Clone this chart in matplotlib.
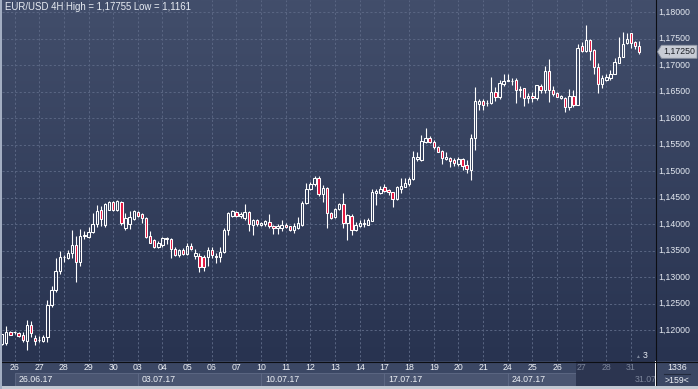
import numpy as np
import matplotlib
matplotlib.use('Agg')
import matplotlib.pyplot as plt
import matplotlib.transforms as mtransforms
from matplotlib.patches import Rectangle, Polygon
from matplotlib.lines import Line2D
from matplotlib.colors import LinearSegmentedColormap

plt.rcParams['font.family'] = ['Liberation Sans', 'DejaVu Sans']

W, H = 698, 389

# EUR/USD 4H candles, first one is cut by the left edge
first_bar = -1
opens = [1.1174, 1.1175, 1.1196, 1.1196, 1.1194, 1.1190, 1.1179, 1.1210, 1.1184, 1.1181,
         1.1179, 1.1186, 1.1248, 1.1275, 1.1311, 1.1337, 1.1335, 1.1345, 1.1361, 1.1329,
         1.1378, 1.1376, 1.1385, 1.1400, 1.1427, 1.1399, 1.1427, 1.1442, 1.1427, 1.1441,
         1.1392, 1.1400, 1.1409, 1.1423, 1.1418, 1.1411, 1.1378, 1.1369, 1.1356, 1.1361,
         1.1371, 1.1371, 1.1352, 1.1342, 1.1351, 1.1343, 1.1359, 1.1340, 1.1340, 1.1337,
         1.1337, 1.1351, 1.1340, 1.1337, 1.1348, 1.1389, 1.1416, 1.1422, 1.1416, 1.1411,
         1.1422, 1.1399, 1.1408, 1.1399, 1.1400, 1.1404, 1.1397, 1.1392, 1.1393, 1.1399,
         1.1396, 1.1389, 1.1393, 1.1399, 1.1440, 1.1466, 1.1476, 1.1487, 1.1457, 1.1468,
         1.1420, 1.1413, 1.1428, 1.1438, 1.1401, 1.1415, 1.1389, 1.1397, 1.1400, 1.1399,
         1.1406, 1.1459, 1.1459, 1.1470, 1.1464, 1.1460, 1.1447, 1.1467, 1.1470, 1.1476,
         1.1484, 1.1523, 1.1521, 1.1555, 1.1562, 1.1555, 1.1545, 1.1538, 1.1523, 1.1524,
         1.1521, 1.1513, 1.1523, 1.1511, 1.1502, 1.1562, 1.1626, 1.1632, 1.1628, 1.1628,
         1.1650, 1.1639, 1.1664, 1.1670, 1.1670, 1.1672, 1.1654, 1.1656, 1.1637, 1.1642,
         1.1637, 1.1660, 1.1653, 1.1689, 1.1653, 1.1647, 1.1637, 1.1637, 1.1621, 1.1642,
         1.1625, 1.1735, 1.1727, 1.1747, 1.1728, 1.1697, 1.1664, 1.1672, 1.1675, 1.1684,
         1.1704, 1.1716, 1.1741, 1.1760, 1.1743, 1.1735]
highs = [1.1193, 1.1207, 1.1199, 1.1199, 1.1196, 1.1196, 1.1218, 1.1217, 1.1190, 1.1188,
         1.1190, 1.1256, 1.1283, 1.1335, 1.1349, 1.1341, 1.1351, 1.1389, 1.1378, 1.1391,
         1.1386, 1.1395, 1.1421, 1.1435, 1.1434, 1.1440, 1.1444, 1.1444, 1.1446, 1.1444,
         1.1421, 1.1424, 1.1427, 1.1425, 1.1421, 1.1413, 1.1386, 1.1372, 1.1367, 1.1376,
         1.1375, 1.1373, 1.1356, 1.1352, 1.1354, 1.1365, 1.1365, 1.1352, 1.1345, 1.1342,
         1.1356, 1.1356, 1.1345, 1.1357, 1.1392, 1.1422, 1.1426, 1.1424, 1.1423, 1.1438,
         1.1424, 1.1410, 1.1410, 1.1404, 1.1408, 1.1418, 1.1399, 1.1400, 1.1408, 1.1402,
         1.1397, 1.1401, 1.1414, 1.1443, 1.1478, 1.1479, 1.1490, 1.1490, 1.1473, 1.1470,
         1.1423, 1.1430, 1.1439, 1.1458, 1.1418, 1.1419, 1.1404, 1.1408, 1.1409, 1.1411,
         1.1467, 1.1467, 1.1472, 1.1475, 1.1467, 1.1461, 1.1472, 1.1486, 1.1486, 1.1488,
         1.1538, 1.1536, 1.1568, 1.1582, 1.1566, 1.1559, 1.1547, 1.1540, 1.1536, 1.1527,
         1.1524, 1.1527, 1.1524, 1.1521, 1.1570, 1.1659, 1.1635, 1.1635, 1.1634, 1.1678,
         1.1659, 1.1672, 1.1683, 1.1684, 1.1675, 1.1675, 1.1660, 1.1656, 1.1647, 1.1650,
         1.1663, 1.1664, 1.1698, 1.1711, 1.1660, 1.1650, 1.1644, 1.1640, 1.1654, 1.1653,
         1.1740, 1.1744, 1.17755, 1.1750, 1.1730, 1.1703, 1.1681, 1.1684, 1.1691, 1.1713,
         1.1753, 1.1763, 1.1761, 1.1761, 1.1746, 1.1746]
lows = [1.1172, 1.1171, 1.1190, 1.1193, 1.1187, 1.1177, 1.1163, 1.1186, 1.1171, 1.1177,
        1.1177, 1.1178, 1.1243, 1.1272, 1.1305, 1.1329, 1.1334, 1.1335, 1.1290, 1.1321,
        1.1371, 1.1373, 1.1383, 1.1394, 1.1396, 1.1394, 1.1426, 1.1425, 1.1425, 1.1399,
        1.1389, 1.1391, 1.1408, 1.1414, 1.1402, 1.1374, 1.1364, 1.1354, 1.1355, 1.1357,
        1.1362, 1.1335, 1.1340, 1.1337, 1.1342, 1.1341, 1.1351, 1.1334, 1.1310, 1.1312,
        1.1321, 1.1335, 1.1327, 1.1328, 1.1345, 1.1380, 1.1414, 1.1414, 1.1412, 1.1408,
        1.1386, 1.1380, 1.1397, 1.1396, 1.1397, 1.1393, 1.1381, 1.1381, 1.1387, 1.1392,
        1.1387, 1.1383, 1.1391, 1.1396, 1.1438, 1.1464, 1.1471, 1.1452, 1.1441, 1.1392,
        1.1409, 1.1412, 1.1427, 1.1392, 1.1370, 1.1379, 1.1387, 1.1395, 1.1395, 1.1398,
        1.1405, 1.1436, 1.1457, 1.1461, 1.1455, 1.1433, 1.1445, 1.1459, 1.1469, 1.1472,
        1.1483, 1.1518, 1.1519, 1.1552, 1.1552, 1.1541, 1.1535, 1.1513, 1.1521, 1.1508,
        1.1509, 1.1509, 1.1502, 1.1496, 1.1483, 1.1540, 1.1616, 1.1616, 1.1623, 1.1626,
        1.1633, 1.1635, 1.1660, 1.1669, 1.1662, 1.1629, 1.1640, 1.1623, 1.1629, 1.1631,
        1.1634, 1.1647, 1.1647, 1.1631, 1.1642, 1.1639, 1.1635, 1.1612, 1.1616, 1.1620,
        1.1624, 1.1725, 1.1725, 1.1710, 1.1684, 1.1648, 1.1656, 1.1670, 1.1672, 1.1683,
        1.1703, 1.1715, 1.1740, 1.1733, 1.1730, 1.1721]
closes = [1.1192, 1.1196, 1.1191, 1.1197, 1.1189, 1.1182, 1.1209, 1.1195, 1.1179, 1.1182,
          1.1187, 1.1248, 1.1275, 1.1311, 1.1338, 1.1338, 1.1345, 1.1361, 1.1329, 1.1378,
          1.1379, 1.1385, 1.1400, 1.1425, 1.1410, 1.1438, 1.1442, 1.1427, 1.1443, 1.1402,
          1.1411, 1.1413, 1.1425, 1.1416, 1.1411, 1.1376, 1.1365, 1.1356, 1.1365, 1.1373,
          1.1373, 1.1352, 1.1342, 1.1351, 1.1344, 1.1359, 1.1352, 1.1345, 1.1318, 1.1318,
          1.1351, 1.1341, 1.1337, 1.1348, 1.1389, 1.1420, 1.1424, 1.1416, 1.1419, 1.1422,
          1.1400, 1.1408, 1.1400, 1.1402, 1.1405, 1.1396, 1.1392, 1.1396, 1.1399, 1.1394,
          1.1389, 1.1397, 1.1402, 1.1440, 1.1467, 1.1476, 1.1486, 1.1457, 1.1468, 1.1421,
          1.1411, 1.1428, 1.1438, 1.1402, 1.1417, 1.1389, 1.1398, 1.1401, 1.1401, 1.1408,
          1.1460, 1.1462, 1.1467, 1.1463, 1.1460, 1.1447, 1.1469, 1.1472, 1.1477, 1.1484,
          1.1526, 1.1527, 1.1557, 1.1562, 1.1554, 1.1545, 1.1536, 1.1525, 1.1527, 1.1519,
          1.1515, 1.1522, 1.1509, 1.1503, 1.1562, 1.1633, 1.1632, 1.1625, 1.1629, 1.1649,
          1.1639, 1.1667, 1.1669, 1.1672, 1.1669, 1.1653, 1.1653, 1.1637, 1.1642, 1.1637,
          1.1662, 1.1652, 1.1689, 1.1653, 1.1645, 1.1640, 1.1642, 1.1621, 1.1642, 1.1625,
          1.1732, 1.1727, 1.1747, 1.1727, 1.1696, 1.1664, 1.1675, 1.1677, 1.1684, 1.1706,
          1.1716, 1.1739, 1.1749, 1.1741, 1.1736, 1.1725]

day_labels = ['26', '27', '28', '29', '30', '03', '04', '05', '06', '07', '10', '11', '12',
              '13', '14', '17', '18', '19', '20', '21', '24', '25', '26', '27', '28', '31']
week_labels = ['26.06.17', '03.07.17', '10.07.17', '17.07.17', '24.07.17', '31.07']
first_day_bar = 2
bars_per_day = 6
price_ticks = [1.12, 1.125, 1.13, 1.135, 1.14, 1.145, 1.15, 1.155, 1.16, 1.165,
               1.17, 1.175, 1.18]
last_price = 1.1725
title = 'EUR/USD 4H High = 1,17755 Low = 1,1161'

def fx(px):
    return px / W

def fy(py):
    return 1 - py / H

fig = plt.figure(figsize=(W / 100, H / 100), dpi=100)

# gradient background behind chart and price axis
bg = fig.add_axes([0, fy(361), 1, 361 / H])
cmap = LinearSegmentedColormap.from_list('bg', ['#283350', '#424e6b'])
bg.imshow(np.linspace(0, 1, 256).reshape(-1, 1), cmap=cmap, aspect='auto',
          origin='lower', extent=[0, 1, 0, 1])
bg.set_axis_off()

ax = fig.add_axes([fx(2), fy(361), 653 / W, 361 / H])
ax.set_facecolor('none')
ax.set_xlim(-1.046, 157.83)
ax.set_ylim(1.11415, 1.182271)
for s in ax.spines.values():
    s.set_visible(False)
ax.set_xticks([])
ax.set_yticks([])

grid_kw = dict(color='#5a6683', lw=0.7, ls=(0, (2.2, 2.2)), zorder=1)
for p in price_ticks:
    ax.axhline(p, **grid_kw)
day_pos = [first_day_bar + bars_per_day * k for k in range(len(day_labels))]
for d in day_pos:
    ax.axvline(d, **grid_kw)

o = np.array(opens)
h = np.array(highs)
l = np.array(lows)
c = np.array(closes)
x = np.arange(len(o)) + first_bar
top = np.maximum(o, c)
bot = np.minimum(o, c)
up = c >= o
faces = ['none' if u else '#e3163f' for u in up]
ax.vlines(x, top, h, color='white', lw=0.8, zorder=2)
ax.vlines(x, l, bot, color='white', lw=0.8, zorder=2)
ax.bar(x, np.maximum(top - bot, 0.00006), bottom=bot, width=0.58, color=faces,
       edgecolor='white', linewidth=0.75, zorder=3)

# price labels on the right
trans = mtransforms.blended_transform_factory(ax.transAxes, ax.transData)
for p in price_ticks:
    ax.text(1 + 3.5 / 653, p, f'{p:.5f}'.replace('.', ','), transform=trans,
            ha='left', va='center', fontsize=6.3, color='#e4e8f0', clip_on=False)

# last price marker
ytr = ax.transData.transform((0, last_price))[1]
yp = H - ytr
poly = Polygon([(fx(657.5), fy(yp)), (fx(661.5), fy(yp - 6.5)), (fx(697), fy(yp - 6.5)),
                (fx(697), fy(yp + 6.5)), (fx(661.5), fy(yp + 6.5))], closed=True,
               transform=fig.transFigure, fc='#c8ccd5', ec='#8f96a4', lw=0.6, zorder=5)
fig.patches.append(poly)
fig.text(fx(663), fy(yp), f'{last_price:.5f}'.replace('.', ','), ha='left', va='center',
         fontsize=6.3, color='#1c1f26', zorder=6)

ax.text(3 / 653, 1 - 7.5 / 361, title, transform=ax.transAxes, ha='left', va='center',
        fontsize=6.9, color='#e8ecf3')
ax.text(1 - 10 / 653, 6 / 361, '3', transform=ax.transAxes, ha='center', va='center',
        fontsize=6.3, color='#e8ecf3')
ax.text(1 - 18 / 653, 5 / 361, '\u25b2', transform=ax.transAxes, ha='center',
        va='center', fontsize=3.5, color='#7d879c')

# time axis panel
ax2 = fig.add_axes([fx(2), 0, 653 / W, 28 / H])
ax2.set_xlim(ax.get_xlim())
ax2.set_ylim(28, 0)
ax2.set_facecolor('#3b4764')
for s in ax2.spines.values():
    s.set_visible(False)
ax2.set_xticks([])
ax2.set_yticks([])
week_pos = day_pos[::5]
for k, ws in enumerate(week_pos):
    we = week_pos[k + 1] if k + 1 < len(week_pos) else 160
    ax2.add_patch(Rectangle((ws, 12), we - ws, 12.5, fc='#4a5571', ec='#5f6a86',
                            lw=0.6, zorder=1))
dark_x0 = (576 - 6.3) / 4.11
ax2.add_patch(Rectangle((dark_x0, 0), 20, 25, fc='#2c3550', ec='none', zorder=2))
for d, lab in zip(day_pos, day_labels):
    col = '#7c859a' if d > dark_x0 else '#eef1f6'
    ax2.text(d, 7, lab, ha='center', va='center', fontsize=6.3, color=col, zorder=3)
for ws, lab in zip(week_pos, week_labels):
    col = '#7c859a' if ws > dark_x0 else '#eef1f6'
    ax2.text(ws + 1.0, 19, lab, ha='left', va='center', fontsize=6.3, color=col,
             zorder=3, clip_on=True)

# right bottom corner
fig.patches.append(Rectangle((fx(656), fy(386)), 42 / W, 25 / H, transform=fig.transFigure,
                             fc='#3b4764', ec='none', zorder=4))
fig.text(fx(677), fy(367.5), '1336', ha='center', va='center', fontsize=6.3,
         color='#eef1f6', zorder=6)
fig.lines.append(Line2D([fx(664), fx(690)], [fy(373.5), fy(373.5)], transform=fig.transFigure,
                        color='#222a3d', lw=0.8, zorder=6))
fig.text(fx(677), fy(380.5), '>159<', ha='center', va='center', fontsize=6.3,
         color='#eef1f6', zorder=6)

# frame lines and borders
fig.lines.append(Line2D([fx(655.5), fx(655.5)], [0, 1], transform=fig.transFigure,
                        color='#0c0e13', lw=0.8, zorder=7))
fig.lines.append(Line2D([0, 1], [fy(361.5), fy(361.5)], transform=fig.transFigure,
                        color='#0c0e13', lw=0.8, zorder=7))
fig.patches.append(Rectangle((0, 0), 1, 3 / H, transform=fig.transFigure,
                             fc='#c2c8d2', ec='none', zorder=8))
fig.patches.append(Rectangle((0, 0), 2 / W, 1, transform=fig.transFigure,
                             fc='#a3aec2', ec='none', zorder=8))

fig.savefig('out.png', dpi=100)
